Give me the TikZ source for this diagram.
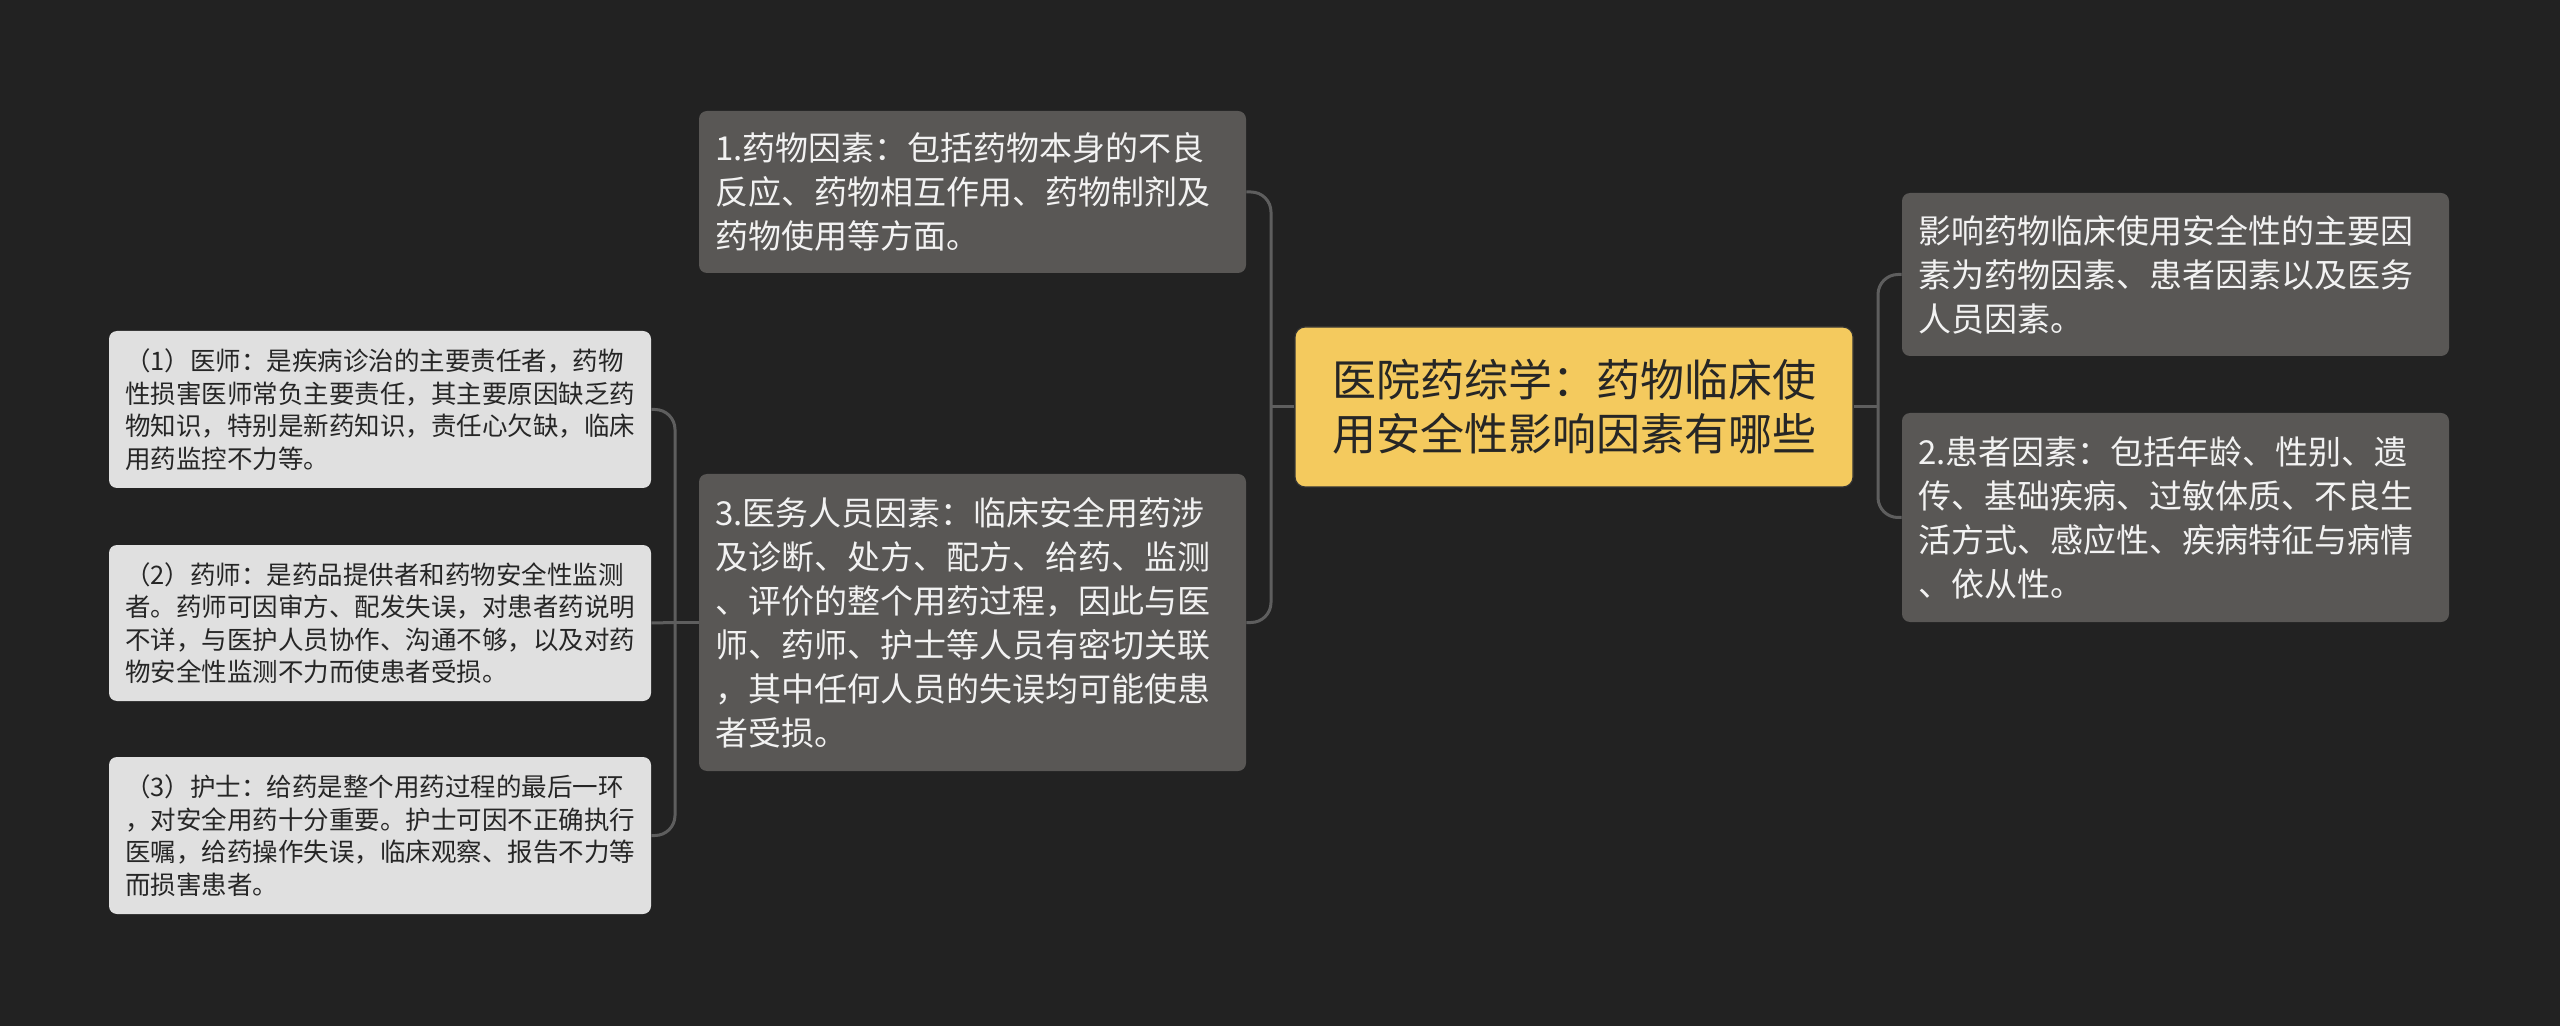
\documentclass[tikz,border=0pt]{standalone}
\usepackage{fontspec}
\setmainfont{Noto Sans CJK SC}
\definecolor{bg}{HTML}{222222}
\definecolor{boxdark}{HTML}{595755}
\definecolor{boxlight}{HTML}{E0E0E0}
\definecolor{rootfill}{HTML}{F4CA5E}
\definecolor{linecol}{HTML}{5E5E5E}
\definecolor{darktext}{HTML}{262626}
\definecolor{lighttext}{HTML}{F2F2F2}
\tikzset{
  darkbox/.style={draw=none, fill=boxdark, rounded corners=4pt, inner sep=0pt},
  lightbox/.style={draw=none, fill=boxlight, rounded corners=4pt, inner sep=0pt},
  rootbox/.style={draw=black!80, line width=0.6pt, fill=rootfill, rounded corners=5pt, inner sep=0pt},
  midtext/.style={anchor=west, inner sep=0pt, align=left, text=lighttext, font=\fontsize{16.5pt}{22pt}\selectfont},
  lefttext/.style={anchor=west, inner sep=0pt, align=left, text=darktext, font=\fontsize{12.75pt}{16.25pt}\selectfont},
  roottext/.style={anchor=center, inner sep=0pt, align=center, text=darktext, font=\fontsize{22pt}{27pt}\selectfont},
  conn/.style={draw=linecol, line width=1.5pt, rounded corners=10pt},
}
\begin{document}
\begin{tikzpicture}[x=0.5pt,y=-0.5pt]
\useasboundingbox (0,0) rectangle (2560,1026);
\fill[bg] (0,0) rectangle (2560,1026);

% root
\node[rootbox, minimum width=279pt, minimum height=80pt] (root) at (1574,407) {};
\node[roottext] (roott) at (root.center) {医院药综学：药物临床使\\用安全性影响因素有哪些};

% middle level
\node[darkbox, minimum width=273.5pt, minimum height=81pt] (m1) at (972.5,192) {};
\node[midtext] (m1t) at ([xshift=8pt]m1.west) {1.药物因素：包括药物本身的不良\\反应、药物相互作用、药物制剂及\\药物使用等方面。};

\node[darkbox, minimum width=273.5pt, minimum height=148.5pt] (m3) at (972.5,622.5) {};
\node[midtext] (m3t) at ([xshift=8pt]m3.west) {3.医务人员因素：临床安全用药涉\\及诊断、处方、配方、给药、监测\\、评价的整个用药过程，因此与医\\师、药师、护士等人员有密切关联\\，其中任何人员的失误均可能使患\\者受损。};

% right level
\node[darkbox, minimum width=273.5pt, minimum height=81.5pt] (r1) at (2175.5,274.5) {};
\node[midtext] (r1t) at ([xshift=8pt]r1.west) {影响药物临床使用安全性的主要因\\素为药物因素、患者因素以及医务\\人员因素。};

\node[darkbox, minimum width=273.5pt, minimum height=104.5pt] (r2) at (2175.5,517.5) {};
\node[midtext] (r2t) at ([xshift=8pt]r2.west) {2.患者因素：包括年龄、性别、遗\\传、基础疾病、过敏体质、不良生\\活方式、感应性、疾病特征与病情\\、依从性。};

% left level
\node[lightbox, minimum width=271pt, minimum height=78.5pt] (c1) at (380,409.5) {};
\node[lefttext] (c1t) at ([xshift=8pt]c1.west) {（1）医师：是疾病诊治的主要责任者，药物\\性损害医师常负主要责任，其主要原因缺乏药\\物知识，特别是新药知识，责任心欠缺，临床\\用药监控不力等。};

\node[lightbox, minimum width=271pt, minimum height=78pt] (c2) at (380,623) {};
\node[lefttext] (c2t) at ([xshift=8pt]c2.west) {（2）药师：是药品提供者和药物安全性监测\\者。药师可因审方、配发失误，对患者药说明\\不详，与医护人员协作、沟通不够，以及对药\\物安全性监测不力而使患者受损。};

\node[lightbox, minimum width=271pt, minimum height=78.5pt] (c3) at (380,835.5) {};
\node[lefttext] (c3t) at ([xshift=8pt]c3.west) {（3）护士：给药是整个用药过程的最后一环\\，对安全用药十分重要。护士可因不正确执行\\医嘱，给药操作失误，临床观察、报告不力等\\而损害患者。};

% junctions
\coordinate (jm) at (1271,407);
\coordinate (jr) at (1878,407);
\coordinate (jl) at (675,622.5);

% connectors
\draw[conn] (root.west) -- (jm);
\draw[conn] (m1.east) -| (jm) |- (m3.east);
\draw[conn] (root.east) -- (jr);
\draw[conn] (r1.west) -| (jr) |- (r2.west);
\draw[conn] (m3.west) -- (jl);
\draw[conn] (c1.east) -| (jl) |- (c3.east);
\draw[conn] (c2.east) -- (jl);
\end{tikzpicture}
\end{document}
